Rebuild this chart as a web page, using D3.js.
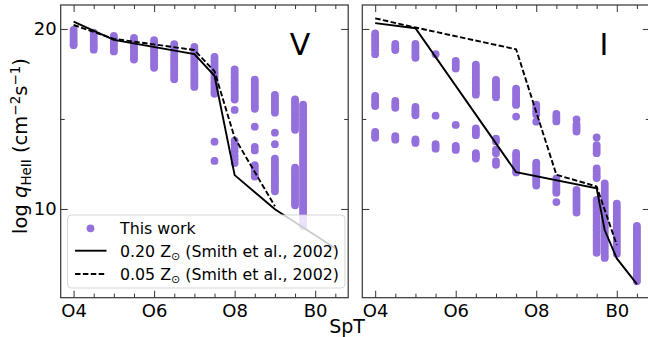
<!DOCTYPE html>
<html>
<head>
<meta charset="utf-8">
<script src="https://cdn.jsdelivr.net/npm/d3@7"></script>
<style>
    body { margin: 0; background: #fff; }
    svg { display: block; font-family: "DejaVu Sans", sans-serif; }
</style>
</head>
<body>
<div id="chart"></div>
<script>
// ---- data ----
// spectral type as number: O4 = 4 ... O9.7 = 9.7, B0 = 10, B0.5 = 10.5
const sptV = [4, 4.5, 5, 5.5, 6, 6.5, 7, 7.5, 8, 8.5, 9, 9.5, 9.7];
const qV = [
    [19.95, 19.82, 19.68, 19.55, 19.42, 19.3, 19.18, 19.1],
    [19.8, 19.66, 19.52, 19.38, 19.24, 19.1, 18.97, 18.85],
    [19.62, 19.5, 19.37, 19.24, 19.12, 19.0, 18.87, 18.75],
    [19.5, 19.36, 19.22, 19.08, 18.94, 18.8, 18.66, 18.52, 18.4, 18.3],
    [19.38, 19.24, 19.1, 18.96, 18.82, 18.68, 18.54, 18.4, 18.26, 18.12, 17.98, 17.84],
    [19.16, 19.02, 18.88, 18.74, 18.6, 18.46, 18.32, 18.18, 18.04, 17.9, 17.76, 17.62, 17.48, 17.34, 17.2],
    [19.0, 18.86, 18.72, 18.58, 18.44, 18.3, 18.16, 18.02, 17.88, 17.74, 17.6, 17.46, 17.32, 17.18, 17.04, 16.9, 16.78],
    [18.44, 18.3, 18.16, 18.02, 17.88, 17.74, 17.6, 17.46, 17.32, 17.18, 17.04, 16.9, 16.76, 16.62, 16.5, 16.4, 13.74, 12.67],
    [17.75, 17.6, 17.46, 17.32, 17.18, 17.04, 16.9, 16.76, 16.62, 16.48, 16.34, 16.2, 16.08, 15.5, 13.8, 13.6, 13.4, 13.2, 12.95, 12.75, 12.55],
    [17.19, 17.05, 16.91, 16.77, 16.63, 16.49, 16.35, 16.21, 16.07, 15.93, 15.79, 15.66, 15.56, 14.57, 13.45, 13.25, 12.44, 12.3, 12.16, 12.02, 11.88, 11.8],
    [16.33, 16.19, 16.05, 15.91, 15.77, 15.63, 15.49, 15.35, 14.24, 13.6, 12.8, 12.66, 12.52, 12.38, 12.24, 12.1, 11.96, 11.82, 11.68, 11.54, 11.4, 11.26, 11.12, 10.98],
    [16.08, 15.94, 15.8, 15.66, 15.52, 15.38, 15.24, 15.1, 14.96, 14.82, 14.68, 14.54, 14.4, 12.3, 12.16, 12.02, 11.88, 11.74, 11.6, 11.46, 11.32, 11.18, 11.04, 10.9, 10.76, 10.62, 10.48, 10.34, 10.2],
    [15.8, 15.65, 15.5, 15.35, 15.2, 15.05, 14.9, 14.75, 14.6, 14.45, 14.3, 14.15, 14.0, 13.85, 13.7, 13.55, 13.4, 13.25, 13.1, 12.95, 12.8, 12.65, 12.5, 12.35, 12.2, 12.05, 11.9, 11.75, 11.6, 11.45, 11.3, 11.15, 11.0, 10.85, 10.7, 10.55, 10.4, 10.25, 10.1, 9.95, 9.8, 9.65, 9.5, 9.35, 9.2, 9.05]
];

const sptI = [4, 4.5, 5, 5.5, 6, 6.5, 7, 7.5, 8, 8.5, 9, 9.5, 9.7, 10, 10.5];
const qI = [
    [19.75, 19.62, 19.5, 19.38, 19.25, 19.1, 18.95, 18.8, 18.6, 16.28, 16.15, 16.0, 15.85, 15.72, 14.28, 14.15, 14.02, 13.95],
    [19.17, 19.05, 18.93, 18.83, 16.0, 15.85, 15.72, 15.62, 14.05, 13.95, 13.85],
    [19.17, 19.05, 18.9, 18.78, 18.65, 18.5, 18.4, 15.67, 15.55, 15.43, 15.3, 15.2, 13.86, 13.76, 13.67],
    [18.6, 15.18, 13.6, 13.48, 13.35],
    [18.22, 18.1, 17.95, 17.8, 14.67, 13.5, 13.4, 13.28],
    [18.02, 17.88, 17.74, 17.6, 17.46, 17.32, 17.18, 17.04, 16.9, 16.76, 16.62, 16.48, 16.35, 14.47, 14.35, 14.22, 14.1, 13.1, 13.0, 12.9, 12.8],
    [17.17, 17.03, 16.89, 16.75, 16.61, 16.47, 16.33, 16.2, 13.9, 13.75, 13.3, 13.1, 12.65, 12.45],
    [16.69, 16.55, 16.41, 16.27, 16.13, 15.99, 15.85, 15.78, 15.13, 13.11, 12.97, 12.83, 12.69, 12.55, 12.41, 12.27, 12.13, 12.03],
    [15.8, 15.65, 15.5, 15.38, 15.25, 14.85, 12.57, 12.43, 12.29, 12.15, 12.01, 11.87, 11.73, 11.59, 11.45, 11.3],
    [15.28, 15.14, 15.0, 14.86, 11.7, 11.56, 11.42, 11.28, 11.14, 11.0, 10.9, 10.38],
    [14.97, 14.7, 14.57, 14.43, 14.3, 11.06, 10.92, 10.78, 10.64, 10.5, 10.36, 10.22, 10.08, 9.94, 9.8],
    [13.97, 13.55, 13.4, 13.25, 13.1, 12.25, 12.1, 11.95, 11.8, 11.72, 10.5, 10.36, 10.22, 10.08, 9.94, 9.8, 9.66, 9.52, 9.38, 9.24, 9.1, 8.96, 8.82, 8.68, 8.54, 8.4, 8.26, 8.12, 7.98, 7.84, 7.7, 7.56],
    [11.42, 11.28, 11.14, 11.0, 10.86, 10.72, 10.58, 10.44, 10.3, 10.16, 10.02, 9.88, 9.74, 9.6, 9.46, 9.32, 9.18, 9.04, 8.9, 8.76, 8.62, 8.48, 8.34, 8.2, 8.06, 7.92, 7.78, 7.64, 7.5, 7.36, 7.28],
    [10.3, 10.16, 10.02, 9.88, 9.74, 9.6, 9.46, 9.32, 9.18, 9.04, 8.9, 8.76, 8.62, 8.48, 8.34, 8.2, 8.06, 7.92, 7.78, 7.64, 7.5],
    [9.06, 8.92, 8.78, 8.64, 8.5, 8.36, 8.22, 8.08, 7.94, 7.8, 7.66, 7.52, 7.38, 7.24, 7.1, 6.96, 6.82, 6.68, 6.54, 6.4, 6.26, 6.12, 5.98]
];

// Smith et al. (2002) models: [spt, value]
const smith020V = [[4, 20.41], [5, 19.39], [7, 18.6], [7.5, 17.4], [8, 11.88], [9, 9.98], [10.5, 7.82]];
const smith005V = [[4, 20.22], [5, 19.45], [7, 18.83], [7.5, 17.65], [8, 13.95], [9, 10.15]];
const smith020I = [[4, 20.32], [5, 20.04], [7.5, 12.04], [9.5, 11.15], [9.7, 8.83], [10, 7.25], [10.5, 5.82]];
const smith005I = [[4, 20.59], [5, 20.08], [7.5, 18.87], [8.5, 11.9], [9.5, 11.25], [10, 8.0]];

const xTickVals = [4, 6, 8, 10];
const xTickLabels = ["O4", "O6", "O8", "B0"];
const xMinorVals = [4.5, 5, 5.5, 6.5, 7, 7.5, 8.5, 9, 9.5, 10.5];
const yTickVals = [10, 20];
const yMinorVals = [15];
const legendLabels = ["This work", "0.20 Z", "0.05 Z"];

// ---- layout ----
const width = 648, height = 337;
const plotTop = 5, plotBottom = 297.7;
const xDomain = [3.68, 10.82];
const yDomain = [5.07, 21.33];
const dotColor = "#9370db";

const svg = d3.select("#chart").append("svg")
    .attr("width", width)
    .attr("height", height);

const panels = [
    { x0: 60.7, x1: 348.2, spt: sptV, q: qV, solid: smith020V, dashed: smith005V, label: "V", labelX: 300, yLabels: true, legend: true },
    { x0: 362.3, x1: 649.8, spt: sptI, q: qI, solid: smith020I, dashed: smith005I, label: "I", labelX: 604, yLabels: false, legend: false }
];

const y = d3.scaleLinear().domain(yDomain).range([plotBottom, plotTop]);

panels.forEach((p, i) => {
    const x = d3.scaleLinear().domain(xDomain).range([p.x0, p.x1]);

    const clipId = "clip" + i;
    svg.append("clipPath").attr("id", clipId)
        .append("rect")
        .attr("x", p.x0).attr("y", plotTop)
        .attr("width", p.x1 - p.x0).attr("height", plotBottom - plotTop);

    const g = svg.append("g").attr("clip-path", `url(#${clipId})`);

    // scatter columns
    const pts = [];
    p.spt.forEach((s, k) => p.q[k].forEach(v => pts.push({ s, v })));
    g.selectAll("circle.pt")
        .data(pts)
        .join("circle")
        .attr("class", "pt")
        .attr("cx", d => x(d.s))
        .attr("cy", d => y(d.v))
        .attr("r", 3.9)
        .attr("fill", dotColor);

    const line = d3.line().x(d => x(d[0])).y(d => y(d[1]));

    g.append("path")
        .datum(p.solid)
        .attr("fill", "none")
        .attr("stroke", "#000")
        .attr("stroke-width", 1.9)
        .attr("d", line);

    g.append("path")
        .datum(p.dashed)
        .attr("fill", "none")
        .attr("stroke", "#000")
        .attr("stroke-width", 1.9)
        .attr("stroke-dasharray", "5.5,2.4")
        .attr("d", line);

    // panel label
    svg.append("text")
        .attr("x", p.labelX)
        .attr("y", 55)
        .attr("text-anchor", "middle")
        .attr("font-size", "30px")
        .attr("fill", "#000")
        .text(p.label);

    // legend (left panel only)
    if (p.legend) {
        const lg = svg.append("g").attr("transform", "translate(67.5,215)");
        lg.append("rect")
            .attr("width", 277.5).attr("height", 73)
            .attr("rx", 4)
            .attr("fill", "#fff").attr("fill-opacity", 0.8)
            .attr("stroke", "#ccc").attr("stroke-opacity", 0.8);

        lg.append("circle")
            .attr("cx", 23).attr("cy", 13.3).attr("r", 3.9)
            .attr("fill", dotColor);

        lg.append("line")
            .attr("x1", 7.5).attr("x2", 39).attr("y1", 35.7).attr("y2", 35.7)
            .attr("stroke", "#000").attr("stroke-width", 1.9);
        lg.append("line")
            .attr("x1", 7.5).attr("x2", 39).attr("y1", 59).attr("y2", 59)
            .attr("stroke", "#000").attr("stroke-width", 1.9)
            .attr("stroke-dasharray", "5.5,2.4");

        [18.5, 41.5, 64.5].forEach((ty, k) => {
            const t = lg.append("text")
                .attr("x", 52.5).attr("y", ty)
                .attr("font-size", "15.8px")
                .attr("fill", "#000");
            t.append("tspan").text(legendLabels[k]);
            if (k > 0) {
                t.append("tspan").attr("font-size", "11px").attr("dy", 3).text("\u2299");
                t.append("tspan").attr("dy", -3).text(" (Smith et al., 2002)");
            }
        });
    }

    // ticks, all pointing inward
    const styleAxis = sel => {
        sel.select(".domain").remove();
        sel.selectAll(".tick line").attr("stroke", "#333").attr("stroke-width", 1);
        sel.selectAll(".tick text").attr("fill", "#000").attr("font-size", "18px")
            .attr("font-family", "DejaVu Sans, sans-serif");
    };

    svg.append("g")
        .attr("transform", `translate(0,${plotBottom})`)
        .call(d3.axisBottom(x).tickValues(xTickVals).tickFormat((d, k) => xTickLabels[k]).tickSize(-7).tickPadding(7))
        .call(styleAxis);
    svg.append("g")
        .attr("transform", `translate(0,${plotBottom})`)
        .call(d3.axisBottom(x).tickValues(xMinorVals).tickFormat("").tickSize(-4))
        .call(styleAxis);
    svg.append("g")
        .attr("transform", `translate(0,${plotTop})`)
        .call(d3.axisTop(x).tickValues(xTickVals).tickFormat("").tickSize(-7))
        .call(styleAxis);
    svg.append("g")
        .attr("transform", `translate(0,${plotTop})`)
        .call(d3.axisTop(x).tickValues(xMinorVals).tickFormat("").tickSize(-4))
        .call(styleAxis);

    svg.append("g")
        .attr("transform", `translate(${p.x0},0)`)
        .call(d3.axisLeft(y).tickValues(yTickVals).tickFormat(p.yLabels ? d3.format("d") : "").tickSize(-7).tickPadding(4))
        .call(styleAxis);
    svg.append("g")
        .attr("transform", `translate(${p.x0},0)`)
        .call(d3.axisLeft(y).tickValues(yMinorVals).tickFormat("").tickSize(-4))
        .call(styleAxis);
    svg.append("g")
        .attr("transform", `translate(${p.x1},0)`)
        .call(d3.axisRight(y).tickValues(yTickVals).tickFormat("").tickSize(-7))
        .call(styleAxis);
    svg.append("g")
        .attr("transform", `translate(${p.x1},0)`)
        .call(d3.axisRight(y).tickValues(yMinorVals).tickFormat("").tickSize(-4))
        .call(styleAxis);

    // frame
    svg.append("rect")
        .attr("x", p.x0).attr("y", plotTop)
        .attr("width", p.x1 - p.x0).attr("height", plotBottom - plotTop)
        .attr("fill", "none")
        .attr("stroke", "#333")
        .attr("stroke-width", 1.2);
});

// x label
svg.append("text")
    .attr("x", 347)
    .attr("y", 333)
    .attr("text-anchor", "middle")
    .attr("font-size", "19px")
    .attr("fill", "#000")
    .text("SpT");

// y label: log q_HeII (cm^-2 s^-1)
const yl = svg.append("text")
    .attr("transform", "translate(27,146) rotate(-90)")
    .attr("text-anchor", "middle")
    .attr("font-size", "19.5px")
    .attr("fill", "#000");
yl.append("tspan").text("log ");
yl.append("tspan").attr("font-style", "italic").text("q");
yl.append("tspan").attr("font-size", "13.5px").attr("dy", 4).text("HeII");
yl.append("tspan").attr("dy", -4).text(" (cm");
yl.append("tspan").attr("font-size", "13.5px").attr("dy", -7).text("\u22122");
yl.append("tspan").attr("dy", 7).text("s");
yl.append("tspan").attr("font-size", "13.5px").attr("dy", -7).text("\u22121");
yl.append("tspan").attr("dy", 7).text(")");
</script>
</body>
</html>
